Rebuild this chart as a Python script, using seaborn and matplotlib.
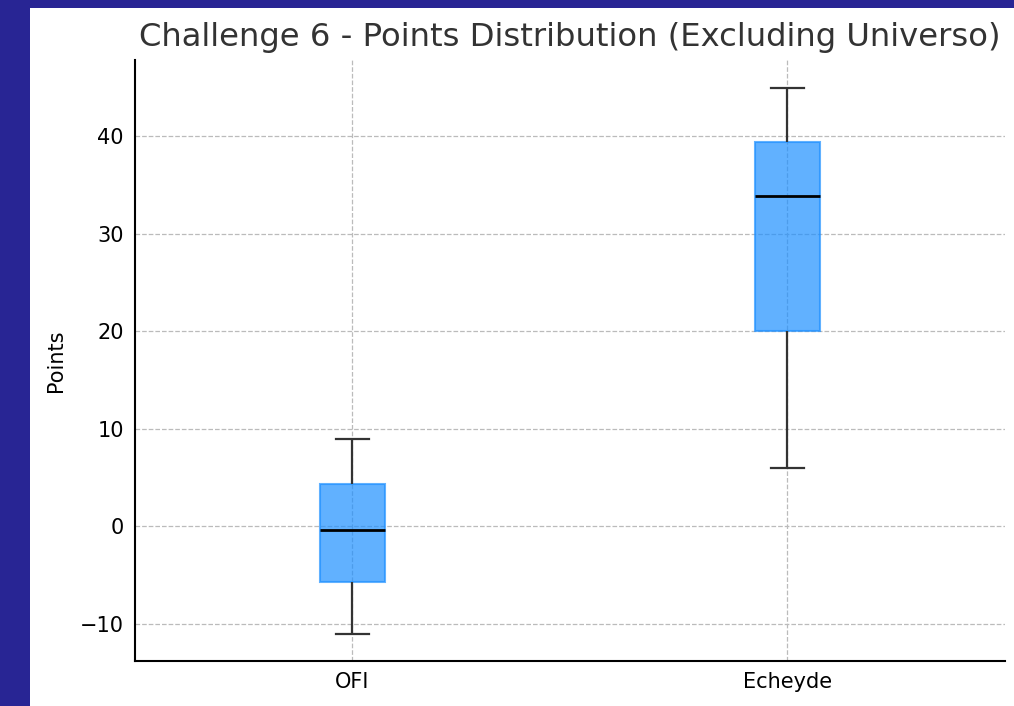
import pandas as pd
import seaborn as sns
import matplotlib.pyplot as plt
from matplotlib.patches import Rectangle

# values: min, q1, median, q3, max for each team
TEAMS = ["OFI", "Echeyde"]
OFI_POINTS = [-11, -5.7, -0.4, 4.3, 9]
ECHEYDE_POINTS = [6, 20, 33.9, 39.4, 45]

BOX_COLOR = (0.118, 0.565, 1.0, 0.7)


def plot(df):
    fig = plt.figure(figsize=(10.14, 7.06), dpi=100)
    fig.patch.set_facecolor("white")
    # dark frame around the screenshot
    fig.patches.append(Rectangle((0, 0), 30 / 1014, 1, transform=fig.transFigure,
                                 facecolor="#282594", edgecolor="none", zorder=0))
    fig.patches.append(Rectangle((0, 1 - 8 / 706), 1, 8 / 706, transform=fig.transFigure,
                                 facecolor="#282594", edgecolor="none", zorder=0))

    ax = fig.add_axes([0.133, 0.0637, 0.858, 0.851])

    sns.boxplot(
        data=df, x="team", y="points", order=TEAMS, ax=ax,
        width=0.15, whis=1.5, showfliers=False,
        boxprops=dict(facecolor=BOX_COLOR, edgecolor=BOX_COLOR, linewidth=1.5),
        medianprops=dict(color="black", linewidth=2),
        whiskerprops=dict(color="#333333", linewidth=1.6),
        capprops=dict(color="#333333", linewidth=1.6),
    )

    ax.grid(True, axis="both", linestyle="--", linewidth=0.9, color="#bbbbbb")
    ax.set_axisbelow(True)

    ax.set_title("Challenge 6 - Points Distribution (Excluding Universo)",
                 fontsize=23.2, color="#333333", pad=10)
    ax.set_ylabel("Points", fontsize=15, labelpad=10)
    ax.set_xlabel("")
    ax.tick_params(axis="y", length=0, labelsize=15, pad=8)
    ax.tick_params(axis="x", length=0, labelsize=15, pad=8)
    ax.set_yticks([-10, 0, 10, 20, 30, 40])
    ax.set_xlim(-0.5, 1.5)
    ax.set_ylim(-13.8, 47.8)

    for side in ["top", "right"]:
        ax.spines[side].set_visible(False)
    for side in ["left", "bottom"]:
        ax.spines[side].set_linewidth(1.5)
        ax.spines[side].set_color("black")

    fig.savefig("out.png", dpi=100)


if __name__ == "__main__":
    df = pd.DataFrame({
        "team": ["OFI"] * len(OFI_POINTS) + ["Echeyde"] * len(ECHEYDE_POINTS),
        "points": OFI_POINTS + ECHEYDE_POINTS,
    })
    plot(df)
